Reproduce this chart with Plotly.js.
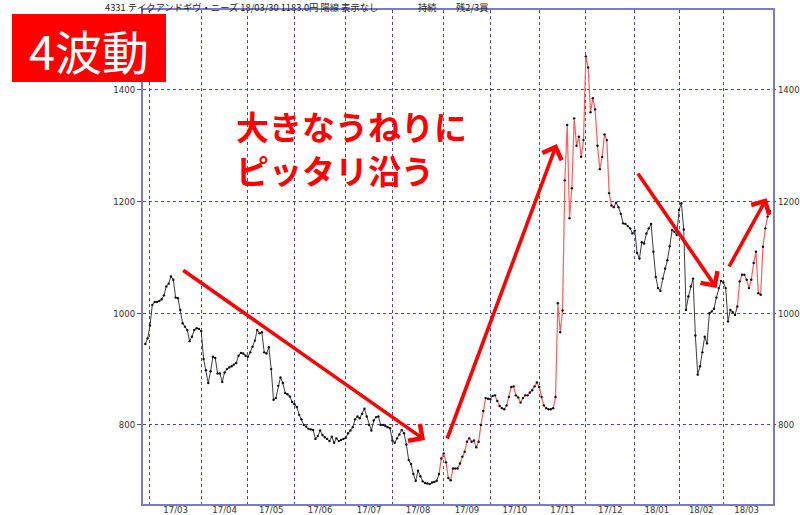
<!DOCTYPE html>
<html><head><meta charset="utf-8">
<script src="https://cdn.plot.ly/plotly-3.0.1.min.js"></script>
<style>html,body{margin:0;padding:0;background:#fff}#c{width:800px;height:515px}</style>
</head><body><div id="c"></div>
<script>
// trading-day index of the first session of each month
const monthStarts = [2,24,44,64,86,106,128,148,169,189,210,229,248];
const monthLabels = ['17/03','17/04','17/05','17/06','17/07','17/08','17/09','17/10','17/11','17/12','18/01','18/02','18/03'];
const lastIndex = 268;
// daily closes (yen)
const closes = [
945,955,978,1015,1020,1020,1022,1025,1032,1048,1053,1066,1060,1028,1027,1006,982,976,970,950,
958,970,973,972,968,918,898,875,896,922,920,892,892,877,894,900,903,905,908,911,
924,929,928,924,922,930,940,951,970,964,966,930,928,939,900,845,848,870,885,875,
857,855,851,841,837,832,818,810,800,797,793,792,791,775,780,790,782,778,775,771,
779,768,776,771,773,775,777,785,790,796,810,815,812,820,829,815,800,790,808,814,
815,800,800,798,796,794,772,768,776,783,791,785,765,737,730,712,700,718,708,699,
696,695,694,697,698,700,712,740,749,733,705,701,722,722,722,731,743,752,770,776,
770,772,760,770,800,825,848,847,846,852,853,843,834,830,828,835,850,868,869,853,
849,840,848,853,853,858,862,869,876,868,850,835,830,828,828,830,850,1018,966,1005,
1238,1337,1170,1224,1349,1300,1316,1280,1310,1460,1440,1360,1385,1365,1300,1258,1280,1320,1310,1215,
1193,1190,1198,1190,1178,1161,1160,1156,1152,1143,1148,1108,1098,1127,1125,1143,1152,1160,1110,1065,
1045,1040,1062,1080,1095,1120,1149,1146,1140,1185,1197,1150,1006,1030,1048,1062,960,890,905,930,
958,946,1000,1003,1008,1028,1045,1058,1055,1045,985,1006,1002,997,1012,1057,1069,1069,1060,1045,
1060,1090,1110,1036,1033,1119,1152,1173,1183
];
// [start,end] index ranges drawn in red (uptrend)
const redRanges = [[126,201],[254,268]];
const yTicks = [800,1000,1200,1400];
// trend arrows: [tailIdx, tailVal, tipIdx, tipVal]
const arrows = [[15.6,1079,120.0,773],[129.3,773,176.5,1303],[210.9,1253,245.1,1045],[250.1,1081,266.6,1206]];
const headerParts = ['4331 テイクアンドギヴ・ニーズ 18/03/30 1183.0円 陽線 表示なし','持続','残2/3買'];
const badgeText = '4波動';
const noteLines = ['大きなうねりに','ピッタリ沿う'];

const idx = closes.map((_, i) => i);
const isRedSeg = i => redRanges.some(r => i >= r[0] && i < r[1]); // segment i -> i+1
const blackY = closes.map((v, i) => ((i < closes.length-1 && !isRedSeg(i)) || (i > 0 && !isRedSeg(i-1))) ? v : null);
const redY = closes.map((v, i) => ((i < closes.length-1 && isRedSeg(i)) || (i > 0 && isRedSeg(i-1))) ? v : null);

const labelPos = monthStarts.map((s, k) => (s + (k < monthStarts.length-1 ? monthStarts[k+1] : lastIndex)) / 2);

const W = 800, H = 515, L = 143, R = 27, T = 10, B = 11;
const pw = W - L - R, ph = H - T - B;
const px = x => (x - L) / pw;
const py = y => 1 - (y - T) / ph;

const gridC = '#4646c0', frameC = '#7a7ac6', tickFont = {family: 'Liberation Sans Narrow, DejaVu Sans Condensed, Arial, sans-serif', size: 9.5, color: '#333'};
const yRange = [658.4, 1543];

const traces = [
  {x: idx, y: blackY, mode: 'lines', line: {color: '#3c3c3c', width: 1}, connectgaps: false, hoverinfo: 'skip'},
  {x: idx, y: redY, mode: 'lines', line: {color: '#ff5c5c', width: 1.2}, connectgaps: false, hoverinfo: 'skip'},
  {x: idx, y: closes, yaxis: 'y2', mode: 'markers', marker: {color: '#111', size: 2.4}, hoverinfo: 'skip'}
];

const annotations = [];
arrows.forEach(a => annotations.push({
  x: a[2], y: a[3], ax: a[0], ay: a[1], xref: 'x', yref: 'y', axref: 'x', ayref: 'y',
  text: '', showarrow: true, arrowhead: 4, arrowsize: 1.1, arrowwidth: 3.6, arrowcolor: '#ff0000', standoff: 0, startstandoff: 0
}));
const headerX = [104, 417, 455];
headerParts.forEach((t, k) => annotations.push({
  text: t, xref: 'paper', yref: 'paper', x: px(headerX[k]), y: py(6.5), xanchor: 'left', yanchor: 'middle',
  showarrow: false, borderpad: 0, font: {family: 'Noto Sans CJK JP, sans-serif', size: 9.3, color: '#222'}
}));
annotations.push({
  text: badgeText, xref: 'paper', yref: 'paper', x: px(89), y: py(49), xanchor: 'center', yanchor: 'middle',
  showarrow: false, font: {family: 'Noto Sans CJK JP, sans-serif', size: 47, color: '#ffffff'}
});
const noteY = [126, 170];
noteLines.forEach((t, k) => annotations.push({
  text: t, xref: 'paper', yref: 'paper', x: px(235), y: py(noteY[k]), xanchor: 'left', yanchor: 'middle', align: 'left',
  showarrow: false, borderpad: 0, font: {family: 'Noto Sans CJK JP, sans-serif', size: 33, color: '#ff0000', weight: 700}
}));

const layout = {
  width: W, height: H, margin: {l: L, r: R, t: T, b: B}, showlegend: false,
  paper_bgcolor: '#fff', plot_bgcolor: '#fff',
  xaxis: {range: [-1, 269.3], tickmode: 'array', tickvals: labelPos, ticktext: monthLabels, ticks: '', showgrid: false,
    minor: {tickmode: 'array', tickvals: monthStarts, showgrid: true, gridcolor: gridC, griddash: 'dot', gridwidth: 1, ticks: ''},
    showline: true, mirror: true, linecolor: frameC, linewidth: 2, zeroline: false, tickfont: tickFont, ticklabelstandoff: -4},
  yaxis: {range: yRange, tickmode: 'array', tickvals: yTicks, ticks: 'outside', ticklen: 4, tickcolor: '#555', tickwidth: 1,
    showgrid: true, gridcolor: gridC, griddash: 'dot', gridwidth: 1, showline: true, mirror: true, linecolor: frameC, linewidth: 2,
    zeroline: false, tickfont: tickFont},
  yaxis2: {range: yRange, overlaying: 'y', side: 'right', tickmode: 'array', tickvals: yTicks, ticks: 'outside', ticklen: 2,
    tickcolor: '#555', showgrid: false, zeroline: false, showline: false, tickfont: tickFont},
  shapes: [{type: 'rect', xref: 'paper', yref: 'paper', x0: px(12), x1: px(166), y0: py(82), y1: py(14), fillcolor: '#ff0000', line: {width: 0}, layer: 'above'}],
  annotations: annotations
};
Plotly.newPlot('c', traces, layout, {displayModeBar: false, staticPlot: true});
</script></body></html>
